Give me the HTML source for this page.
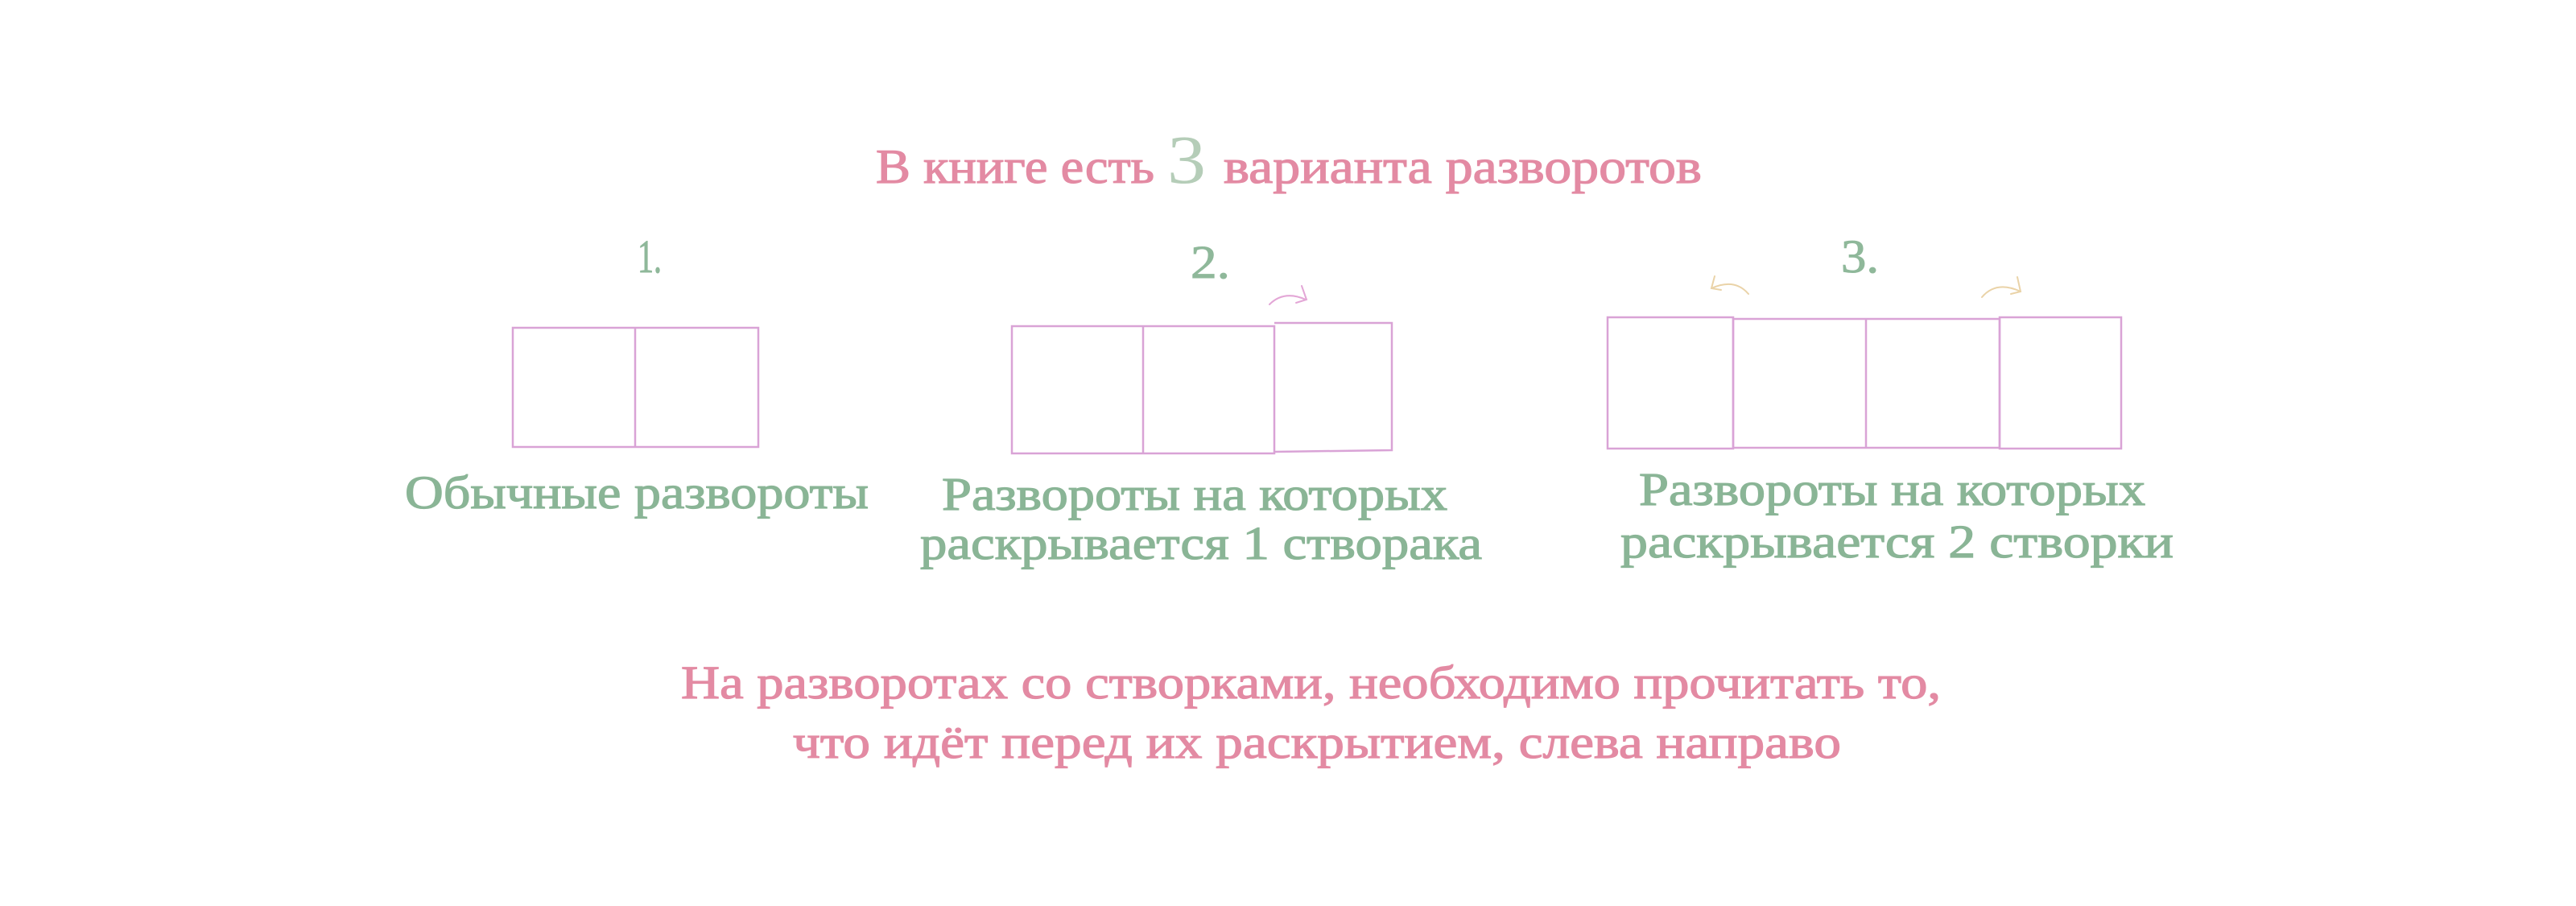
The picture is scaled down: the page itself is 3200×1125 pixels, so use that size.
<!DOCTYPE html>
<html><head><meta charset="utf-8"><style>
html,body{margin:0;padding:0;background:#fff;}
svg{display:block;}
text{font-family:"Liberation Serif",serif;}
</style></head><body>
<svg width="3200" height="1125" viewBox="0 0 3200 1125" xmlns="http://www.w3.org/2000/svg">
<rect width="3200" height="1125" fill="#fff"/>
<!-- Title -->
<g fill="#e38aa3" stroke="#e38aa3" stroke-width="1.2" font-size="60">
<text x="1088" y="227" textLength="346" lengthAdjust="spacingAndGlyphs">В книге есть</text>
<text x="1520" y="227" textLength="594" lengthAdjust="spacingAndGlyphs">варианта разворотов</text>
</g>
<text x="1450" y="227" font-size="86" fill="#b5cdb8" textLength="48" lengthAdjust="spacingAndGlyphs">3</text>
<!-- numbers -->
<g fill="#8fb89a" stroke="#8fb89a" stroke-width="1" font-size="58">
<text x="792" y="338" textLength="30" lengthAdjust="spacingAndGlyphs">1.</text>
<text x="1479" y="345" textLength="49" lengthAdjust="spacingAndGlyphs">2.</text>
<text x="2287" y="338" textLength="47" lengthAdjust="spacingAndGlyphs">3.</text>
</g>
<!-- boxes -->
<g fill="none" stroke="#d9a3d6" stroke-width="2.5">
<rect x="637" y="407" width="305" height="148"/>
<line x1="789" y1="407" x2="789" y2="555"/>
<rect x="1257" y="405" width="326" height="158"/>
<line x1="1420" y1="405" x2="1420" y2="563"/>
<polyline points="1583,401 1729,401 1729,559 1583,561"/>
<rect x="1997" y="394" width="156" height="163"/>
<rect x="2153" y="396" width="331" height="160"/>
<line x1="2318" y1="396" x2="2318" y2="556"/>
<rect x="2484" y="394" width="151" height="163"/>
</g>
<!-- arrows -->
<g fill="none" stroke-width="2" stroke-linecap="round">
<g stroke="#e3a6d6">
<path d="M1577,378 Q1595,360 1622,372"/>
<path d="M1617,355 L1623,372 L1610,376"/>
</g>
<g stroke="#ead3a8">
<path d="M2172,365 Q2155,345 2126,358"/>
<path d="M2130,343 L2126,358 L2138,360"/>
<path d="M2462,369 Q2480,348 2510,362"/>
<path d="M2506,344 L2510,362 L2498,365"/>
</g>
</g>
<!-- labels -->
<g fill="#8ab596" stroke="#8ab596" stroke-width="1.2" font-size="58">
<text x="503" y="631" textLength="576" lengthAdjust="spacingAndGlyphs">Обычные развороты</text>
<text x="1170" y="633" textLength="628" lengthAdjust="spacingAndGlyphs">Развороты на которых</text>
<text x="1143" y="694" textLength="698" lengthAdjust="spacingAndGlyphs">раскрывается 1 створака</text>
<text x="2036" y="627" textLength="629" lengthAdjust="spacingAndGlyphs">Развороты на которых</text>
<text x="2013" y="692" textLength="687" lengthAdjust="spacingAndGlyphs">раскрывается 2 створки</text>
</g>
<!-- bottom -->
<g fill="#e38aa3" stroke="#e38aa3" stroke-width="1.2" font-size="58">
<text x="846" y="867" textLength="1565" lengthAdjust="spacingAndGlyphs">На разворотах со створками, необходимо прочитать то,</text>
<text x="985" y="941" textLength="1302" lengthAdjust="spacingAndGlyphs">что идёт перед  их раскрытием, слева направо</text>
</g>
</svg>
</body></html>
